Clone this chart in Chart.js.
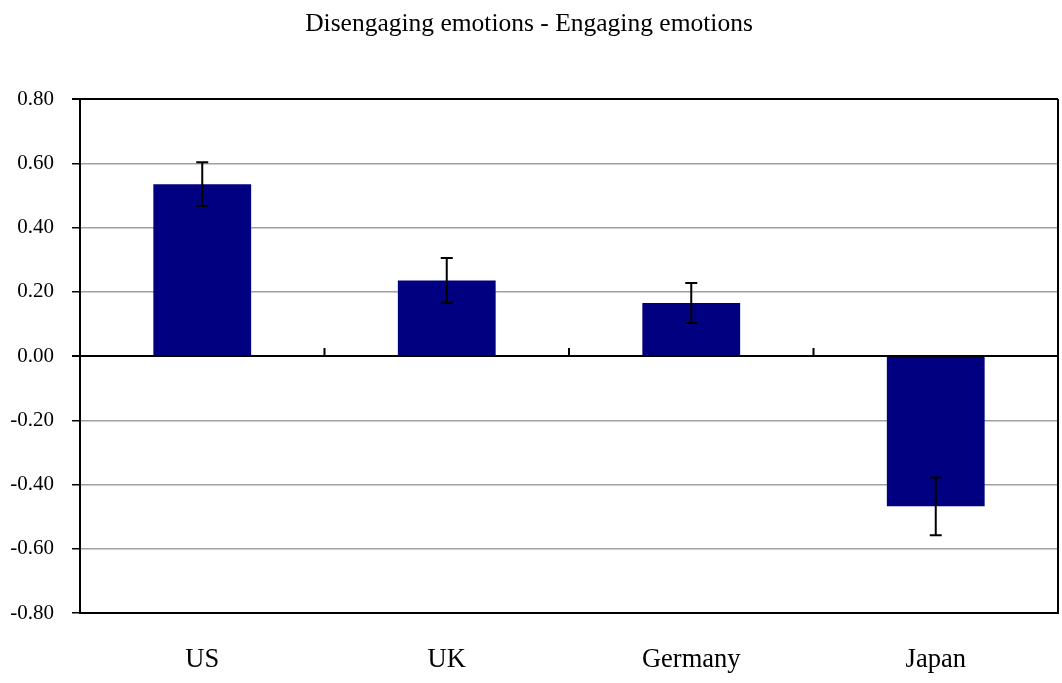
<!DOCTYPE html>
<html>
<head>
<meta charset="utf-8">
<script src="https://cdn.jsdelivr.net/npm/chart.js@4"></script>
<style>
  html, body { margin: 0; padding: 0; background: #fff; }
  #wrap { width: 1062px; height: 683px; }
</style>
</head>
<body>
<div id="wrap"><canvas id="chart"></canvas></div>
<script>
const CATEGORIES = ["US", "UK", "Germany", "Japan"];
const VALUES = [0.535, 0.235, 0.165, -0.468];
const ERRORS = [0.068, 0.07, 0.062, 0.09];
const TITLE = "Disengaging emotions - Engaging emotions";

const SERIF = '"Liberation Serif", "Times New Roman", serif';
const BAR_COLOR = "#000080";
const GRID_GRAY = "#a0a0a0";

// error bars, zero-line ticks and the right frame edge
const extrasPlugin = {
  id: "extras",
  afterDatasetsDraw(chart) {
    const ctx = chart.ctx;
    const x = chart.scales.x;
    const y = chart.scales.y;
    const area = chart.chartArea;

    ctx.save();
    ctx.strokeStyle = "#000";

    // right edge of frame
    ctx.lineWidth = 2;
    ctx.beginPath();
    ctx.moveTo(area.right, area.top);
    ctx.lineTo(area.right, area.bottom);
    ctx.stroke();

    // tick marks on zero line between categories
    const y0 = y.getPixelForValue(0);
    ctx.beginPath();
    for (let i = 0; i < CATEGORIES.length - 1; i++) {
      const bx = (x.getPixelForValue(i) + x.getPixelForValue(i + 1)) / 2;
      ctx.moveTo(bx, y0);
      ctx.lineTo(bx, y0 - 8);
    }
    ctx.stroke();

    // error bars
    const capHalf = 6;
    ctx.lineWidth = 2;
    VALUES.forEach((v, i) => {
      const cx = x.getPixelForValue(i);
      const top = y.getPixelForValue(v + ERRORS[i]);
      const bot = y.getPixelForValue(v - ERRORS[i]);
      ctx.beginPath();
      ctx.moveTo(cx, top);
      ctx.lineTo(cx, bot);
      ctx.moveTo(cx - capHalf, top);
      ctx.lineTo(cx + capHalf, top);
      ctx.moveTo(cx - capHalf, bot);
      ctx.lineTo(cx + capHalf, bot);
      ctx.stroke();
    });
    ctx.restore();
  },
};

const isValue = (v, t) => Math.abs(v - t) < 1e-9;

new Chart(document.getElementById("chart"), {
  type: "bar",
  data: {
    labels: CATEGORIES,
    datasets: [
      {
        data: VALUES,
        backgroundColor: BAR_COLOR,
        borderWidth: 0,
        categoryPercentage: 1,
        barPercentage: 0.4,
      },
    ],
  },
  plugins: [extrasPlugin],
  options: {
    responsive: true,
    maintainAspectRatio: false,
    animation: false,
    layout: { padding: { left: 0, right: 4, top: 0, bottom: 0 } },
    plugins: {
      legend: { display: false },
      tooltip: { enabled: false },
      title: {
        display: true,
        text: TITLE,
        color: "#000",
        font: { family: SERIF, size: 25.5, weight: "normal", lineHeight: 1.2 },
        padding: { top: 9, bottom: 59.4 },
      },
    },
    scales: {
      x: {
        grid: { display: false, drawTicks: false },
        border: { display: true, color: "#000", width: 2 },
        ticks: {
          color: "#000",
          padding: 31,
          font: { family: SERIF, size: 26.5 },
        },
        afterFit(scale) {
          scale.height = 70;
        },
      },
      y: {
        min: -0.8,
        max: 0.8,
        ticks: {
          stepSize: 0.2,
          color: "#000",
          padding: 18,
          font: { family: SERIF, size: 21 },
          callback: (v) => (Math.abs(v) < 1e-9 ? "0.00" : Number(v).toFixed(2)),
        },
        grid: {
          drawTicks: true,
          tickLength: 8,
          tickColor: "#000",
          lineWidth: (c) => (c.tick && (isValue(c.tick.value, 0) || isValue(c.tick.value, 0.8)) ? 2 : 1.5),
          color: (c) => {
            const v = c.tick ? c.tick.value : null;
            if (v == null) return GRID_GRAY;
            if (isValue(v, 0) || isValue(v, 0.8) || isValue(v, -0.8)) return "#000";
            return GRID_GRAY;
          },
        },
        border: { display: true, color: "#000", width: 2 },
        afterFit(scale) {
          scale.width = 80;
        },
      },
    },
  },
});
</script>
</body>
</html>
